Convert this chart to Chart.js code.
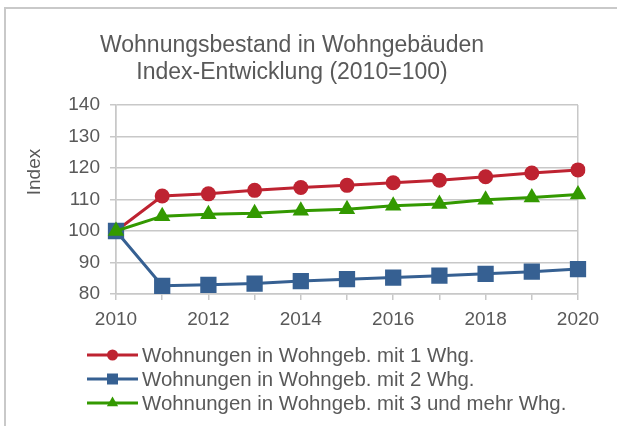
<!DOCTYPE html>
<html><head><meta charset="utf-8">
<script src="https://cdn.jsdelivr.net/npm/chart.js@4"></script>
<style>
html,body{margin:0;padding:0;background:#fff;overflow:hidden;}
canvas{display:block;}
</style></head>
<body><canvas id="c" width="617" height="426"></canvas>
<script>
const years = [2010, 2011, 2012, 2013, 2014, 2015, 2016, 2017, 2018, 2019, 2020];
const einWhg  = [100, 111.1, 111.8, 112.9, 113.8, 114.5, 115.3, 116.1, 117.2, 118.4, 119.4];
const zweiWhg = [100, 82.6, 82.9, 83.3, 84.1, 84.7, 85.2, 85.8, 86.4, 87.1, 87.9];
const dreiWhg = [100, 104.7, 105.3, 105.6, 106.4, 106.9, 108.0, 108.6, 109.9, 110.6, 111.6];
const seriesNames = [
  'Wohnungen in Wohngeb. mit 1 Whg.',
  'Wohnungen in Wohngeb. mit 2 Whg.',
  'Wohnungen in Wohngeb. mit 3 und mehr Whg.'
];
const titleLines = ['Wohnungsbestand in Wohngebäuden', 'Index-Entwicklung (2010=100)'];
const yAxisTitle = 'Index';
const yMin = 80, yMax = 140, yStep = 10;

const FONT = '"Liberation Sans", Arial, sans-serif';
const TXT = '#595959';
const GRID = '#c8c8c8';
const RED = '#be2331', BLUE = '#366092', GREEN = '#339900';

function shape(ctx, style, x, y, r) {
  ctx.beginPath();
  if (style === 'circle') {
    ctx.arc(x, y, r, 0, Math.PI * 2);
  } else if (style === 'rect') {
    ctx.rect(x - r, y - r, 2 * r, 2 * r);
  } else {
    ctx.moveTo(x, y - r);
    ctx.lineTo(x + r * 0.866, y + r * 0.5);
    ctx.lineTo(x - r * 0.866, y + r * 0.5);
    ctx.closePath();
  }
  ctx.fill();
}

const decor = {
  id: 'decor',
  beforeDraw(chart) {
    const ctx = chart.ctx;
    ctx.save();
    ctx.fillStyle = '#ffffff';
    ctx.fillRect(0, 0, chart.width, chart.height);
    ctx.strokeStyle = '#c9c9c9';
    ctx.lineWidth = 2;
    ctx.beginPath();
    ctx.moveTo(4, 8);
    ctx.lineTo(chart.width + 2, 8);
    ctx.moveTo(5, 7);
    ctx.lineTo(5, chart.height + 2);
    ctx.stroke();
    ctx.restore();
  },
  afterDraw(chart) {
    const ctx = chart.ctx;
    ctx.save();
    ctx.fillStyle = TXT;
    ctx.textAlign = 'center';
    ctx.textBaseline = 'alphabetic';
    ctx.font = '23px ' + FONT;
    ctx.fillText(titleLines[0], 292, 52);
    ctx.fillText(titleLines[1], 292, 79);
    // y axis title
    ctx.save();
    ctx.translate(40, 172);
    ctx.rotate(-Math.PI / 2);
    ctx.font = '19px ' + FONT;
    ctx.textBaseline = 'alphabetic';
    ctx.fillText(yAxisTitle, 0, 0);
    ctx.restore();
    // legend
    const ds = chart.data.datasets;
    const legendSizes = [5.5, 5.5, 6.5];
    ctx.font = '20.4px ' + FONT;
    ctx.textAlign = 'left';
    ctx.textBaseline = 'middle';
    for (let i = 0; i < ds.length; i++) {
      const y = 355 + 24 * i;
      ctx.strokeStyle = ds[i].borderColor;
      ctx.lineWidth = 3;
      ctx.beginPath();
      ctx.moveTo(87, y);
      ctx.lineTo(138, y);
      ctx.stroke();
      ctx.fillStyle = ds[i].borderColor;
      shape(ctx, ds[i].pointStyle, 112.5, y, legendSizes[i]);
      ctx.fillStyle = TXT;
      ctx.fillText(ds[i].label, 142, y + 1);
    }
    ctx.restore();
  }
};

new Chart(document.getElementById('c'), {
  type: 'line',
  data: {
    labels: years,
    datasets: [
      { label: seriesNames[0], data: einWhg, borderColor: RED, backgroundColor: RED,
        pointStyle: 'circle', pointRadius: 7.5, pointBorderWidth: 0, borderWidth: 3, order: 3 },
      { label: seriesNames[1], data: zweiWhg, borderColor: BLUE, backgroundColor: BLUE,
        pointStyle: 'rect', pointRadius: 11.5, pointBorderWidth: 0, borderWidth: 3, order: 2 },
      { label: seriesNames[2], data: dreiWhg, borderColor: GREEN, backgroundColor: GREEN,
        pointStyle: 'triangle', pointRadius: 9.5, pointBorderWidth: 0, borderWidth: 3, order: 1 }
    ]
  },
  options: {
    responsive: false,
    animation: false,
    devicePixelRatio: 1,
    layout: { padding: { left: 0, right: 39, top: 105, bottom: 0 } },
    plugins: { legend: { display: false }, title: { display: false }, tooltip: { enabled: false } },
    elements: { line: { tension: 0 } },
    scales: {
      x: {
        type: 'category',
        offset: false,
        afterFit(scale) { scale.height = 132; },
        grid: {
          color: (c) => (c.index === 0 || c.index === years.length - 1) ? GRID : 'rgba(0,0,0,0)',
          tickColor: GRID, lineWidth: 1.5, tickLength: 6, drawTicks: true
        },
        border: { display: true, color: GRID, width: 1.5 },
        ticks: {
          autoSkip: false, maxRotation: 0, padding: 8, color: TXT,
          font: { family: FONT, size: 19 },
          callback: function (v, i) { return years[i] % 2 === 0 ? String(years[i]) : ''; }
        }
      },
      y: {
        min: yMin, max: yMax,
        afterFit(scale) { scale.width = 116; },
        grid: { color: GRID, tickColor: GRID, lineWidth: 1.5, tickLength: 6 },
        border: { display: true, color: GRID, width: 1.5 },
        ticks: { stepSize: yStep, padding: 10, color: TXT, font: { family: FONT, size: 19 } }
      }
    }
  },
  plugins: [decor]
});
</script>
</body></html>
